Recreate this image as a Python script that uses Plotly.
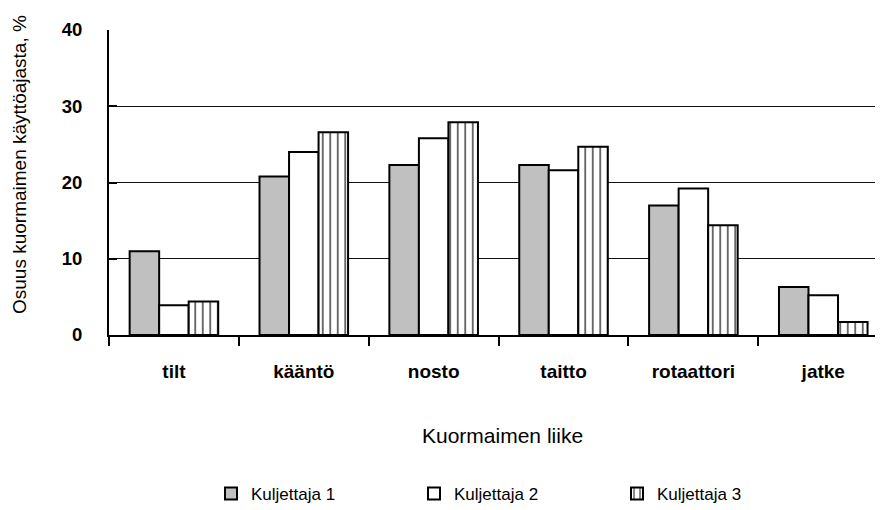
import plotly.graph_objects as go

categories = ["tilt", "kääntö", "nosto", "taitto", "rotaattori", "jatke"]
kuljettaja1 = [11.0, 20.8, 22.3, 22.3, 17.0, 6.3]
kuljettaja2 = [3.9, 24.0, 25.8, 21.6, 19.2, 5.2]
kuljettaja3 = [4.4, 26.6, 27.9, 24.7, 14.4, 1.7]
series_names = ["Kuljettaja 1", "Kuljettaja 2", "Kuljettaja 3"]
y_ticks = [0, 10, 20, 30, 40]

FONT = "Liberation Sans, Arial, sans-serif"

# page body adds an 8px offset; the figure is sized to fill the rest of the window
OFF = 8
W, H = 883 - OFF, 510 - OFF
# plot area in screen pixels: x 109..883, y 30..335
PL, PR, PT, PB = 109, 883, 30, 335


def px_x(px):
    return (px - PL) / (PR - PL)


def px_y(py):
    return (PB - py) / (PB - PT)


fig = go.Figure()
fig.add_trace(go.Bar(
    x=categories, y=kuljettaja1, name=series_names[0],
    marker=dict(color="#c0c0c0", line=dict(color="black", width=2)),
))
fig.add_trace(go.Bar(
    x=categories, y=kuljettaja2, name=series_names[1],
    marker=dict(color="white", line=dict(color="black", width=2)),
))
fig.add_trace(go.Bar(
    x=categories, y=kuljettaja3, name=series_names[2],
    marker=dict(
        color="white", line=dict(color="black", width=2),
        pattern=dict(shape="|", fgcolor="#666666", bgcolor="white",
                     size=7.5, solidity=0.25, fillmode="replace"),
    ),
))

fig.update_layout(
    width=W, height=H,
    margin=dict(l=PL - OFF, r=0, t=PT - OFF, b=H - (PB - OFF)),
    paper_bgcolor="white", plot_bgcolor="white",
    barmode="group", bargap=0.318, bargroupgap=0,
    showlegend=True,
    legend=dict(
        orientation="h", xref="container", yref="container",
        x=(211 - OFF) / W, xanchor="left", y=1 - (494 - OFF) / H, yanchor="middle",
        font=dict(family=FONT, size=17, color="black"),
        entrywidth=158, entrywidthmode="pixels",
        itemwidth=30, traceorder="normal",
    ),
    xaxis=dict(
        range=[-0.5, 5.46],
        showline=True, linecolor="black", linewidth=2,
        ticks="outside", ticklen=9, tickwidth=1.5, tickcolor="black",
        tickson="boundaries",
        tickfont=dict(family=FONT, size=19, color="black", weight="bold"),
        ticklabelstandoff=18,
        showgrid=False, zeroline=False,
    ),
    yaxis=dict(
        range=[0, 40], tickvals=y_ticks,
        showline=True, linecolor="black", linewidth=2,
        ticks="inside", ticklen=8, tickwidth=2, tickcolor="black",
        tickfont=dict(family=FONT, size=18.5, color="black", weight="bold"),
        ticklabelstandoff=21,
        showgrid=True, gridcolor="#111111", gridwidth=1,
        zeroline=False,
    ),
    annotations=[
        dict(text="Kuormaimen liike", xref="paper", yref="paper",
             x=px_x(502), y=px_y(436), xanchor="center", yanchor="middle",
             showarrow=False,
             font=dict(family=FONT, size=21, color="black")),
        dict(text="Osuus kuormaimen käyttöajasta, %", xref="paper", yref="paper",
             x=px_x(19), y=px_y(165), xanchor="center", yanchor="middle",
             textangle=-90, showarrow=False,
             font=dict(family=FONT, size=19, color="black")),
    ],
)

fig.write_html("out.html")
